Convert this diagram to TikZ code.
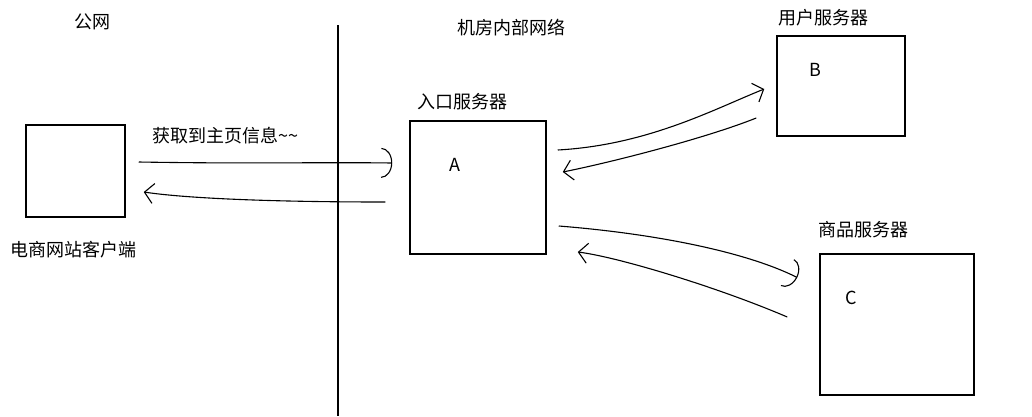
\documentclass[tikz,border=0pt]{standalone}
\usepackage{fontspec}
\setmainfont{Noto Sans CJK SC}
\usetikzlibrary{arrows.meta, calc}

\begin{document}
\begin{tikzpicture}[
        x=1pt, y=-1pt,
        font=\fontsize{18}{20}\selectfont,
        box/.style={draw, line width=1.5pt, inner sep=0pt},
        tag/.style={inner sep=0pt},
        go/.style={line width=1.1pt, -{Straight Barb[length=9pt, width=20pt]}},
        bent/.style={line width=1.1pt, -{Arc Barb[length=11pt, width=30pt]}},
      ]
        \useasboundingbox (0,0) rectangle (1032,416);
        % wall between the two networks
        \draw[line width=2pt] (338,25) -- (338,416);
        \node[tag] (pub)  at (92,22)  {公网};
        \node[tag] (room) at (511,28) {机房内部网络};
        % boxes
        \node[box, minimum width=99pt, minimum height=92pt]   (client) at (75.5,171)  {};
        \node[box, minimum width=136pt, minimum height=133pt] (A)      at (478,187.5) {};
        \node[box, minimum width=128pt, minimum height=100pt] (B)      at (841,86)    {};
        \node[box, minimum width=154pt, minimum height=141pt] (C)      at (897,324.5) {};
        \node[tag] (clientL) at (73,250)  {电商网站客户端};
        \node[tag] (AL)      at (462,102) {入口服务器};
        \node[tag] (BL)      at (823,18)  {用户服务器};
        \node[tag] (CL)      at (863,230) {商品服务器};
        \node[tag] (Ain) at ($(A)+(-23,-22.5)$) {A};
        \node[tag] (Bin) at ($(B)+(-26,-16)$)   {B};
        \node[tag] (Cin) at ($(C)+(-46,-26.5)$) {C};
        \node[tag] (ask) at (225,136) {获取到主页信息\textasciitilde\textasciitilde};
        % requests and replies
        \draw[bent] ($(client.east)+(13,-9)$) .. controls +(120,2) and +(-80,-1) .. ($(A.west)+(-17,-24.5)$);
        \draw[go]   ($(A.west)+(-24,14.5)$) .. controls +(-120,0) and +(40,6) .. ($(client.east)+(18,21)$);
        \draw[go]   ($(A.east)+(11,-37.5)$) .. controls +(90,-5) and +(-50,20) .. ($(B.west)+(-12,3)$);
        \draw[go]   ($(B.west)+(-20,32)$) .. controls +(-50,20) and +(50,-10) .. ($(A.east)+(16,-15.5)$);
        \draw[bent] ($(A.east)+(12,38.5)$) .. controls +(100,8) and +(-50,-25) .. ($(C.west)+(-22,-47)$);
        \draw[go]   ($(C.west)+(-32,-7.5)$) .. controls +(-70,-30) and +(40,5) .. ($(A.east)+(31,64.5)$);
      \end{tikzpicture}
\end{document}
